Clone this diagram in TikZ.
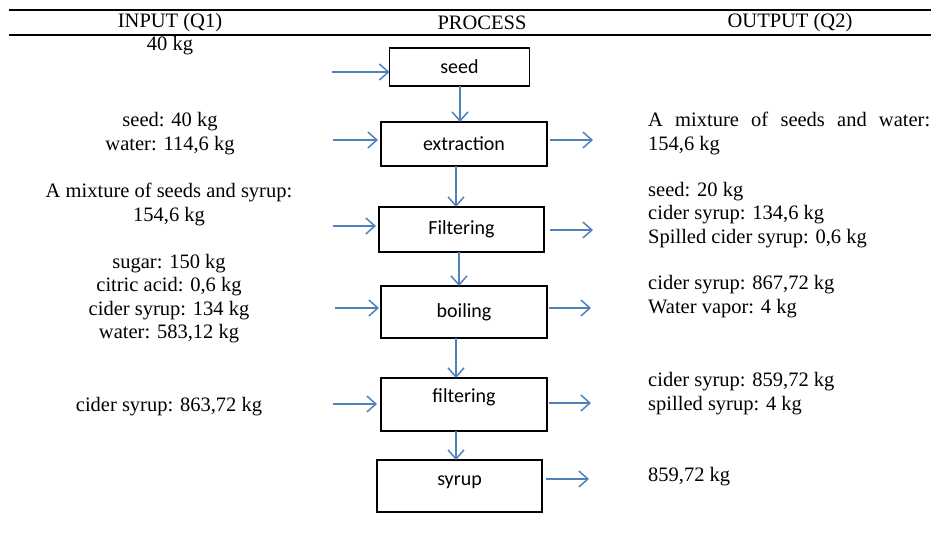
\documentclass[tikz,border=0pt]{standalone}
\usepackage{fontspec}
\setmainfont{Liberation Serif}
\newfontfamily\boxfont{Carlito}
\usetikzlibrary{arrows.meta,calc}
\definecolor{flowblue}{RGB}{79,129,189}
\begin{document}
\begin{tikzpicture}[x=1pt,y=-1pt,
  stepbox/.style={draw=black,line width=1.4pt,inner sep=0pt,outer sep=0pt,
    font=\boxfont\fontsize{20}{24}\selectfont},
  flow/.style={draw=flowblue,line width=1.5pt,-{Straight Barb[length=9pt,width=16pt,line width=1.5pt]}},
  txt/.style={inner sep=0pt,font=\fontsize{20.5}{23.3}\selectfont,align=center},
  rtxt/.style={inner sep=0pt,font=\fontsize{20.5}{23.3}\selectfont,align=left,anchor=west},
  rule/.style={line width=1.8pt,black}]
\useasboundingbox (0,0) rectangle (931,535);
% header rules
\coordinate (r1a) at (9,10); \coordinate (r1b) at (931,10);
\coordinate (r2a) at (9,35); \coordinate (r2b) at (931,35);
\draw[rule] (r1a) -- (r1b);
\draw[rule] (r2a) -- (r2b);
\node[txt] (hin) at (170,23) {INPUT (Q1)};
\node[txt] (hpr) at (482,23) {PROCESS};
\node[txt] (hout) at (790,23) {OUTPUT (Q2)};
% process boxes
\node[stepbox,minimum width=140pt,minimum height=38pt] (seed) at (459.5,67) {seed};
\node[stepbox,minimum width=166pt,minimum height=44pt] (extr) at (464,144) {extraction};
\node[stepbox,minimum width=165pt,minimum height=45pt] (filt1) at (461.5,229.5) {Filtering};
\node[stepbox,minimum width=166pt,minimum height=52pt] (boil) at (464,312) {boiling};
\node[stepbox,minimum width=166pt,minimum height=53pt] (filt2) at (464,404.5) {};
\node[inner sep=0pt,font=\boxfont\fontsize{20}{24}\selectfont] (filt2t) at ($(filt2.center)+(0,-7)$) {filtering};
\node[stepbox,minimum width=165pt,minimum height=52pt] (syrup) at (459.5,486) {};
\node[inner sep=0pt,font=\boxfont\fontsize{20}{24}\selectfont] (syrupt) at ($(syrup.center)+(0,-4)$) {syrup};
% vertical flow
\draw[flow] (seed.south -| 460,0) -- (extr.north -| 460,0);
\draw[flow] (extr.south -| 456,0) -- (filt1.north -| 456,0);
\draw[flow] (filt1.south -| 459,0) -- (boil.north -| 459,0);
\draw[flow] (boil.south -| 456,0) -- (filt2.north -| 456,0);
\draw[flow] (filt2.south -| 456,0) -- (syrup.north -| 456,0);
% inputs
\coordinate (i1) at (332,72);
\coordinate (i2) at (333,140);
\coordinate (i3) at (333,226);
\coordinate (i4) at (335,308);
\coordinate (i5) at (333,404);
\draw[flow] (i1) -- (i1 -| seed.west);
\draw[flow] (i2) -- ($(i2 -| extr.west)+(-3,0)$);
\draw[flow] (i3) -- ($(i3 -| filt1.west)+(-3,0)$);
\draw[flow] (i4) -- ($(i4 -| boil.west)+(-2,0)$);
\draw[flow] (i5) -- ($(i5 -| filt2.west)+(-4,0)$);
% outputs
\coordinate (o2) at (593,140);
\coordinate (o3) at (593,230);
\coordinate (o4) at (591,308);
\coordinate (o5) at (591,403);
\coordinate (o6) at (589,479);
\draw[flow] ($(extr.east |- o2)+(3,0)$) -- (o2);
\draw[flow] ($(filt1.east |- o3)+(6,0)$) -- (o3);
\draw[flow] ($(boil.east |- o4)+(2,0)$) -- (o4);
\draw[flow] ($(filt2.east |- o5)+(2,0)$) -- (o5);
\draw[flow] ($(syrup.east |- o6)+(4,0)$) -- (o6);
% input texts
\node[txt] (in1) at (170,46) {40 kg};
\node[txt] (in2) at (170,133.5) {seed: 40 kg\\water: 114,6 kg};
\node[txt] (in3) at (169,204.5) {A mixture of seeds and syrup:\\154,6 kg};
\node[txt] (in4) at (169,298.5) {sugar: 150 kg\\citric acid: 0,6 kg\\cider syrup: 134 kg\\water: 583,12 kg};
\node[txt] (in5) at (169,407) {cider syrup: 863,72 kg};
% output texts
\node[rtxt] (out2) at (648,133.5) {\makebox[282pt][s]{A mixture of seeds and water:}\\154,6 kg};
\node[rtxt] (out3) at (648,215) {seed: 20 kg\\cider syrup: 134,6 kg\\Spilled cider syrup: 0,6 kg};
\node[rtxt] (out4) at (648,296.5) {cider syrup: 867,72 kg\\Water vapor: 4 kg};
\node[rtxt] (out5) at (648,393.5) {cider syrup: 859,72 kg\\spilled syrup: 4 kg};
\node[rtxt] (out6) at (648,477) {859,72 kg};
\end{tikzpicture}
\end{document}
